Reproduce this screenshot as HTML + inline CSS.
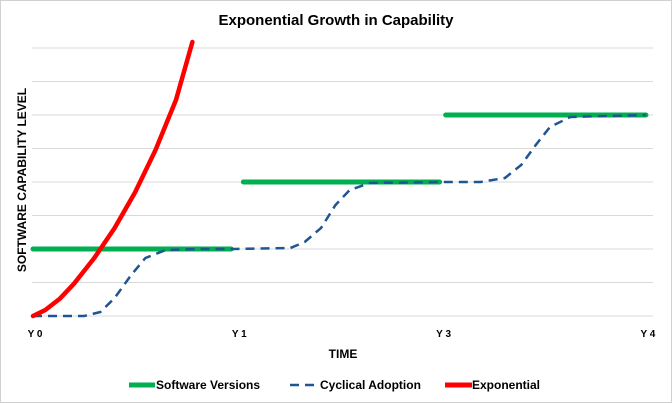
<!DOCTYPE html>
<html><head><meta charset="utf-8"><style>
html,body{margin:0;padding:0;background:#fff}
svg{display:block;font-family:"Liberation Sans",sans-serif}
</style></head><body>
<svg width="672" height="403" viewBox="0 0 672 403">
<rect x="0.5" y="0.5" width="671" height="402" fill="#fff" stroke="#d0d0d0"/>
<text x="336" y="25" text-anchor="middle" font-size="15" font-weight="bold" fill="#000">Exponential Growth in Capability</text>
<g id="grid"></g>
<g id="xticks"></g>
<g id="series"></g>
<text x="343" y="358" text-anchor="middle" font-size="12" font-weight="bold">TIME</text>
<text transform="translate(26,180) rotate(-90)" text-anchor="middle" font-size="12" font-weight="bold">SOFTWARE CAPABILITY LEVEL</text>
<g font-size="12" font-weight="bold">
<g><line x1="129" y1="385" x2="155" y2="385" stroke="#00b050" stroke-width="5"/><text x="156" y="389">Software Versions</text></g>
<g><line x1="290" y1="385" x2="318" y2="385" stroke="#1f5591" stroke-width="2.5" stroke-dasharray="9,6"/><text x="320" y="389">Cyclical Adoption</text></g>
<g><line x1="445" y1="385" x2="472" y2="385" stroke="#ff0000" stroke-width="5"/><text x="472" y="389">Exponential</text></g>
</g>
</svg>
<script>
const categories=["Y 0","Y 1","Y 3","Y 4"];
const gridLevels=[0,1,2,3,4,5,6,7,8];
const versionSegments=[[[0,2],[0.97,2]],[[1.03,4],[1.99,4]],[[2.02,6],[3,6]]];
const adoptionX=[0,0.25,0.33,0.40,0.48,0.55,0.65,0.82,0.98,1.26,1.33,1.41,1.48,1.55,1.65,2.0,2.19,2.31,2.39,2.46,2.53,2.63,3.0];
const adoptionY=[0,0,0.12,0.54,1.22,1.73,1.97,2.0,2.0,2.03,2.21,2.63,3.31,3.76,3.97,4.0,4.0,4.12,4.51,5.1,5.64,5.94,6.0];
const expX=[0,0.06,0.13,0.2,0.3,0.4,0.5,0.6,0.7,0.78];
const expY=[0,0.18,0.51,0.96,1.73,2.63,3.7,4.96,6.45,8.18];
const NS="http://www.w3.org/2000/svg";
const xs=v=>33+v*204.3;
const ys=v=>316-v*33.5;
const grid=document.getElementById('grid');
gridLevels.forEach(l=>{const e=document.createElementNS(NS,'line');
e.setAttribute('x1',32);e.setAttribute('x2',653);e.setAttribute('y1',ys(l));e.setAttribute('y2',ys(l));
e.setAttribute('stroke','#d9d9d9');e.setAttribute('stroke-width',1);


grid.appendChild(e);});
const xt=document.getElementById('xticks');
categories.forEach((c,i)=>{const t=document.createElementNS(NS,'text');
t.setAttribute('x',xs(i)+2);t.setAttribute('y',337);t.setAttribute('text-anchor','middle');
t.setAttribute('font-size',10);t.setAttribute('font-weight','bold');t.textContent=c;


xt.appendChild(t);});
const ser=document.getElementById('series');
function path(pts,stroke,w,dash,name){const p=document.createElementNS(NS,'path');
p.setAttribute('d',pts.map((q,i)=>(i?'L':'M')+xs(q[0]).toFixed(1)+','+ys(q[1]).toFixed(1)).join(''));
p.setAttribute('fill','none');p.setAttribute('stroke',stroke);p.setAttribute('stroke-width',w);
p.setAttribute('stroke-linecap','round');p.setAttribute('stroke-linejoin','round');
if(dash){p.setAttribute('stroke-dasharray',dash);p.setAttribute('stroke-linecap','butt');}


ser.appendChild(p);}
versionSegments.forEach(s=>path(s,'#00b050',5,null,'software-versions-line'));
path(adoptionX.map((x,i)=>[x,adoptionY[i]]),'#1f5591',2.5,'9,6','cyclical-adoption-line');
path(expX.map((x,i)=>[x,expY[i]]),'#ff0000',4.5,null,'exponential-line');
</script>
</body></html>
